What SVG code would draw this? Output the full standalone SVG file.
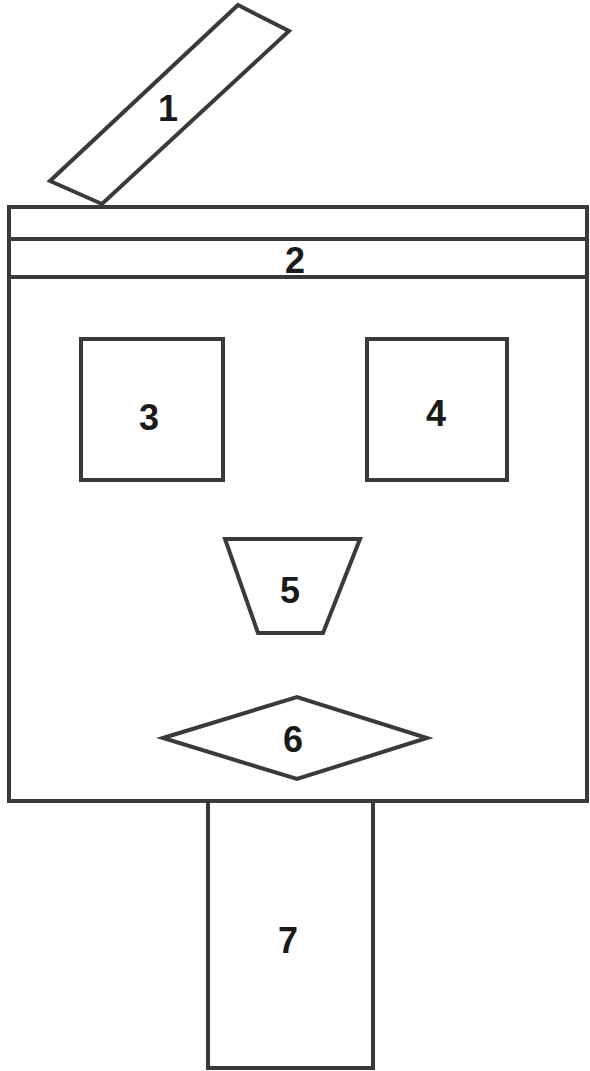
<svg xmlns="http://www.w3.org/2000/svg" width="590" height="1071" viewBox="0 0 590 1071">
<style>
.s{fill:#fff;stroke:#3a3a3a;stroke-width:4;stroke-linejoin:miter}
.l{stroke:#3a3a3a;stroke-width:4;fill:none}
.t{font-family:"Liberation Sans",Arial,sans-serif;font-weight:bold;font-size:36px;fill:#1a1a1a;text-anchor:middle}
</style>
<rect width="590" height="1071" fill="#fff"/>
<g id="node7"><rect class="s" x="208" y="801" width="165" height="267"/><text class="t" x="288" y="953">7</text></g>
<g id="node1"><polygon class="s" points="238,5 289,31 102,204 50,181"/><text class="t" x="168" y="121">1</text></g>
<g id="node2"><rect class="s" x="9" y="207" width="578" height="594"/><line class="l" x1="9" y1="239" x2="587" y2="239"/><line class="l" x1="9" y1="277" x2="587" y2="277"/><text class="t" x="295" y="273">2</text></g>
<g id="node3"><rect class="s" x="81" y="339" width="142" height="141"/><text class="t" x="149" y="430">3</text></g>
<g id="node4"><rect class="s" x="367" y="339" width="140" height="141"/><text class="t" x="436" y="426">4</text></g>
<g id="node5"><polygon class="s" points="225,539 360,539 323,633 258,633"/><text class="t" x="290" y="603">5</text></g>
<g id="node6"><polygon class="s" points="163,738 297,697 427,738 297,779"/><text class="t" x="293" y="752">6</text></g>
<g id="connectors"></g>
</svg>
